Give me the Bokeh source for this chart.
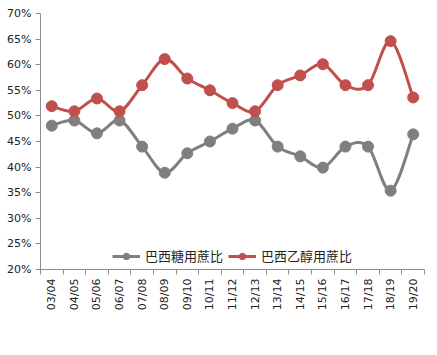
import numpy as np
from bokeh.plotting import figure
from bokeh.models import (FixedTicker, NumeralTickFormatter, Range1d, Legend, LegendItem)
from bokeh.embed import file_html
from bokeh.resources import INLINE

categories = ["03/04", "04/05", "05/06", "06/07", "07/08", "08/09", "09/10", "10/11", "11/12",
              "12/13", "13/14", "14/15", "15/16", "16/17", "17/18", "18/19", "19/20"]
sugar = [0.481, 0.491, 0.466, 0.491, 0.440, 0.389, 0.427, 0.450, 0.475,
         0.491, 0.440, 0.421, 0.399, 0.440, 0.440, 0.354, 0.464]
ethanol = [0.519, 0.509, 0.534, 0.509, 0.560, 0.611, 0.573, 0.550, 0.525,
           0.509, 0.560, 0.579, 0.601, 0.560, 0.560, 0.646, 0.536]
names = ["巴西糖用蔗比", "巴西乙醇用蔗比"]
colors = ["#7f7f7f", "#c0504d"]

xs = np.arange(len(categories), dtype=float)

p = figure(width=437, height=355, output_backend="svg", toolbar_location=None,
           x_range=Range1d(-0.5, len(categories) - 0.5), y_range=Range1d(0.2, 0.7),
           min_border_left=40, min_border_top=13, min_border_right=13, min_border_bottom=86)
p.outline_line_color = None
p.xgrid.grid_line_color = None
p.ygrid.grid_line_color = None


def bezier_parts(x, y):
    x = np.asarray(x, float)
    y = np.asarray(y, float)
    n = len(x)
    xp = np.concatenate([[x[0]], x, [x[-1]]])
    yp = np.concatenate([[y[0]], y, [y[-1]]])
    x0, y0, x1, y1, cx0, cy0, cx1, cy1 = [], [], [], [], [], [], [], []
    for i in range(n - 1):
        a, b, c, d = i, i + 1, i + 2, i + 3
        x0.append(xp[b]); y0.append(yp[b])
        x1.append(xp[c]); y1.append(yp[c])
        cx0.append(xp[b] + (xp[c] - xp[a]) / 6); cy0.append(yp[b] + (yp[c] - yp[a]) / 6)
        cx1.append(xp[c] - (xp[d] - xp[b]) / 6); cy1.append(yp[c] - (yp[d] - yp[b]) / 6)
    return dict(x0=x0, y0=y0, x1=x1, y1=y1, cx0=cx0, cy0=cy0, cx1=cx1, cy1=cy1)


items = []
for vals, name, col in zip([sugar, ethanol], names, colors):
    b = bezier_parts(xs, vals)
    br = p.bezier(line_color=col, line_width=3, **b)
    sr = p.scatter(xs, vals, size=11, fill_color=col, line_color=col)
    items.append(LegendItem(label=name, renderers=[br, sr]))

legend = Legend(items=items, orientation="horizontal", location="bottom_center",
                label_text_font="Noto Sans CJK SC", label_text_font_size="13px",
                label_text_color="#222222", glyph_width=28, glyph_height=16,
                label_standoff=5, spacing=5, label_height=16,
                border_line_color=None, background_fill_alpha=0,
                margin=4, padding=4)
p.add_layout(legend, "center")

# axes
p.yaxis.ticker = FixedTicker(ticks=[0.2, 0.25, 0.3, 0.35, 0.4, 0.45, 0.5, 0.55, 0.6, 0.65, 0.7])
p.yaxis.formatter = NumeralTickFormatter(format="0%")
p.xaxis.ticker = FixedTicker(ticks=list(xs), minor_ticks=list(np.arange(len(categories) + 1) - 0.5))
p.xaxis.major_label_overrides = {int(i): c for i, c in enumerate(categories)}
p.xaxis.major_label_orientation = np.pi / 2
p.xaxis.major_tick_out = 0
p.xaxis.major_tick_in = 0
p.xaxis.minor_tick_out = 5
p.xaxis.minor_tick_in = 0
p.yaxis.major_tick_out = 5
p.yaxis.major_tick_in = 0
for ax in [p.xaxis, p.yaxis]:
    ax.axis_line_color = "#8c8c8c"
    ax.major_tick_line_color = "#8c8c8c"
    ax.major_label_text_font = "DejaVu Sans"
    ax.major_label_text_font_size = "11px"
    ax.major_label_text_color = "#222222"
p.xaxis.minor_tick_line_color = "#8c8c8c"
p.yaxis.minor_tick_line_color = None
p.xaxis.major_label_standoff = 4
p.yaxis.major_label_standoff = 4

open("out.html", "w").write(file_html(p, INLINE))
